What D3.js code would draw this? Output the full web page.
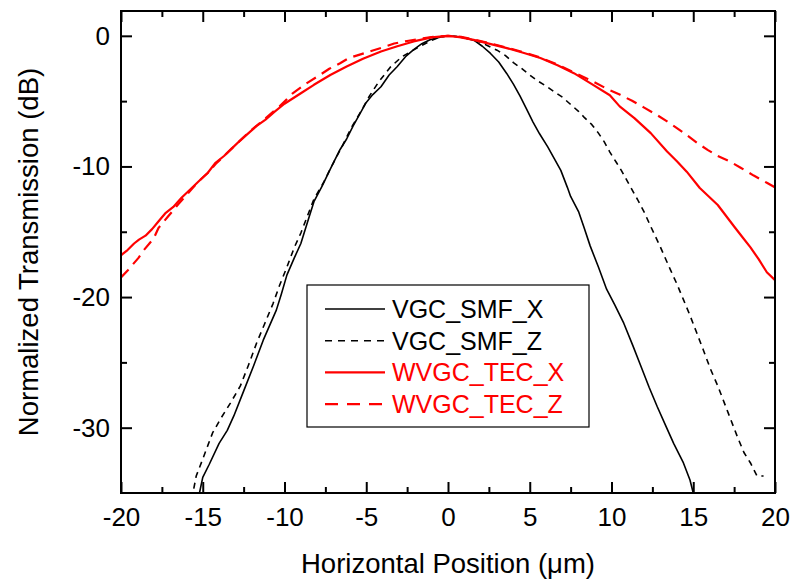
<!DOCTYPE html>
<html>
<head>
<meta charset="utf-8">
<script src="https://cdn.jsdelivr.net/npm/d3@7"></script>
<style>
  body { margin: 0; background: #fff; }
  text { font-family: "Liberation Sans", Arial, sans-serif; }
</style>
</head>
<body>
<svg id="chart" width="791" height="580"></svg>
<script>
// VGC_SMF_X (black solid)
var smfXPos = [-15.2, -15.0, -14.6, -14.0, -13.5, -13.1, -12.5, -11.9, -11.3, -10.5, -10.2, -9.85, -9.4, -9.0, -8.6, -8.2, -7.7, -7.2, -6.6, -6.2, -5.8, -5.4, -5.0, -4.6, -4.1, -3.6, -3.1, -2.6, -2.1, -1.6, -1.1, -0.5, 0, 0.5, 1.0, 1.6, 2.1, 2.6, 3.1, 3.6, 4.0, 4.4, 4.8, 5.2, 5.6, 6.1, 6.5, 6.9, 7.3, 7.5, 8.0, 8.3, 8.7, 9.2, 9.7, 10.2, 10.75, 11.3, 11.8, 12.3, 12.8, 13.3, 13.8, 14.2, 14.4, 14.8, 15.0];
var smfXVal = [-35, -33.8, -32.8, -31.2, -30.2, -29.1, -27.2, -25.3, -23.3, -21.0, -19.8, -18.3, -17.0, -15.9, -14.3, -12.7, -11.5, -10.2, -8.7, -7.9, -6.9, -6.0, -5.1, -4.5, -3.9, -3.0, -2.35, -1.6, -1.05, -0.6, -0.3, -0.1, 0, -0.05, -0.15, -0.35, -0.8, -1.35, -2.0, -2.9, -3.7, -4.6, -5.6, -6.6, -7.5, -8.5, -9.4, -10.3, -11.6, -12.3, -13.5, -14.6, -16.1, -17.7, -19.4, -20.6, -22.0, -23.7, -25.3, -26.9, -28.4, -29.8, -31.2, -32.2, -32.7, -34.0, -35];

// VGC_SMF_Z (black dashed)
var smfZPos = [-16.0, -15.6, -15.4, -15.0, -14.4, -13.9, -13.3, -12.7, -12.2, -11.7, -11.2, -10.7, -10.3, -9.85, -9.4, -9.0, -8.6, -8.2, -7.6, -7.0, -6.45, -5.9, -5.33, -4.8, -4.25, -3.53, -2.82, -2.27, -1.7, -1.1, -0.5, 0, 0.5, 1.0, 1.5, 2.0, 2.4, 3.0, 3.5, 4.0, 4.5, 5.0, 5.45, 6.0, 6.46, 7.0, 7.45, 8.0, 8.3, 8.8, 9.2, 9.55, 9.9, 10.3, 10.6, 11.0, 11.6, 12.0, 12.4, 13.0, 13.6, 14.0, 14.4, 14.8, 15.2, 15.6, 16.05, 16.5, 16.9, 17.3, 17.7, 18.1, 18.5, 18.9, 19.3];
var smfZVal = [-35, -35, -33.7, -32.4, -30.4, -29.3, -28.1, -26.8, -25.2, -23.5, -22.0, -20.5, -19.1, -17.7, -16.2, -15.1, -13.8, -12.5, -11.2, -9.7, -8.4, -7.0, -5.8, -4.6, -3.55, -2.4, -1.6, -1.2, -0.8, -0.4, -0.1, 0, -0.05, -0.15, -0.3, -0.5, -0.74, -1.1, -1.5, -2.05, -2.5, -3.0, -3.42, -3.85, -4.25, -4.7, -5.2, -5.8, -6.2, -6.8, -7.45, -8.1, -8.9, -9.7, -10.3, -11.2, -12.55, -13.5, -14.6, -16.2, -17.9, -19.0, -20.2, -21.4, -22.7, -24.0, -25.5, -26.8, -28.1, -29.4, -30.7, -31.9, -32.7, -33.7, -33.7];

// WVGC_TEC_X (red solid)
var tecXPos = [-20, -19.6, -19.2, -18.9, -18.5, -18.1, -17.7, -17.3, -16.8, -16.3, -15.8, -15.26, -14.7, -14.24, -13.7, -13.2, -12.7, -12.2, -11.7, -11.18, -10.6, -10.0, -9.0, -8.2, -7.2, -6.2, -5.2, -4.1, -3.1, -2.1, -1.0, 0, 0.7, 1.57, 2.5, 3.6, 4.6, 5.65, 6.7, 7.7, 8.8, 9.9, 10.5, 11.4, 12.4, 13.4, 14.0, 14.6, 15.4, 16.5, 17.5, 18.0, 18.5, 19.0, 19.5, 20];
var tecXVal = [-16.8, -16.4, -15.9, -15.6, -15.3, -14.8, -14.2, -13.6, -13.1, -12.4, -11.8, -11.15, -10.5, -9.74, -9.2, -8.6, -8.0, -7.45, -6.9, -6.43, -5.8, -5.2, -4.4, -3.75, -3.0, -2.35, -1.75, -1.2, -0.8, -0.43, -0.12, 0, -0.1, -0.31, -0.6, -0.94, -1.3, -1.7, -2.25, -2.86, -3.7, -4.55, -5.4, -6.3, -7.45, -8.85, -9.6, -10.4, -11.65, -12.95, -14.6, -15.4, -16.2, -17.1, -18.1, -18.7];

// WVGC_TEC_Z (red dashed)
var tecZPos = [-20, -19.55, -18.93, -18.6, -18.0, -17.7, -17.1, -16.5, -16.0, -15.3, -14.7, -14.2, -13.2, -12.2, -11.2, -10.3, -9.5, -8.63, -7.9, -7.26, -6.6, -6.08, -5.3, -4.55, -3.9, -3.29, -2.5, -1.8, -0.9, 0, 0.8, 1.6, 2.5, 3.6, 4.6, 5.6, 6.7, 7.7, 8.8, 9.83, 10.5, 11.26, 12.0, 12.7, 13.4, 14.0, 14.6, 15.24, 15.9, 16.5, 17.2, 17.9, 18.7, 19.5, 20];
var tecZVal = [-18.5, -17.9, -17.0, -16.4, -15.5, -14.7, -13.8, -12.9, -12.2, -11.2, -10.5, -9.8, -8.6, -7.4, -6.35, -5.4, -4.4, -3.62, -3.05, -2.52, -2.1, -1.71, -1.4, -1.1, -0.85, -0.59, -0.4, -0.25, -0.08, 0, -0.08, -0.3, -0.55, -0.9, -1.25, -1.65, -2.2, -2.8, -3.45, -4.13, -4.5, -4.97, -5.5, -6.0, -6.55, -7.06, -7.6, -8.2, -8.75, -9.2, -9.6, -10.1, -10.7, -11.25, -11.6];

var seriesNames = ["VGC_SMF_X", "VGC_SMF_Z", "WVGC_TEC_X", "WVGC_TEC_Z"];
var xTicks = [-20, -15, -10, -5, 0, 5, 10, 15, 20];
var xMinor = [-17.5, -12.5, -7.5, -2.5, 2.5, 7.5, 12.5, 17.5];
var yTicks = [0, -10, -20, -30];
var yMinor = [-5, -15, -25];

var svg = d3.select("#chart"),
  margin = { top: 11, right: 16, bottom: 87, left: 121 },
  width = +svg.attr("width") - margin.left - margin.right,
  height = +svg.attr("height") - margin.top - margin.bottom;

var x = d3.scaleLinear().domain([-20, 20]).range([margin.left, margin.left + width]);
var y = d3.scaleLinear().domain([-35, 1.9]).range([margin.top + height, margin.top]);

var styles = [
  { color: "#000", width: 1.6, dash: null, legendDash: null },
  { color: "#000", width: 1.6, dash: "6,5", legendDash: "7,6" },
  { color: "#ff0000", width: 2.2, dash: null, legendDash: null },
  { color: "#ff0000", width: 2.2, dash: "11,7", legendDash: "13,9" }
];

var series = [
  { pos: smfXPos, val: smfXVal },
  { pos: smfZPos, val: smfZVal },
  { pos: tecXPos, val: tecXVal },
  { pos: tecZPos, val: tecZVal }
].map(function (s, i) {
  return {
    name: seriesNames[i],
    style: styles[i],
    values: s.pos.map(function (p, j) { return { x: p, y: s.val[j] }; })
  };
});

svg.append("defs").append("clipPath").attr("id", "plot-clip")
  .append("rect")
  .attr("x", margin.left).attr("y", margin.top)
  .attr("width", width).attr("height", height);

var line = d3.line()
  .x(function (d) { return x(d.x); })
  .y(function (d) { return y(d.y); });

svg.append("g")
  .attr("clip-path", "url(#plot-clip)")
  .selectAll("path")
  .data(series)
  .enter()
  .append("path")
  .attr("fill", "none")
  .attr("stroke", function (d) { return d.style.color; })
  .attr("stroke-width", function (d) { return d.style.width; })
  .attr("stroke-dasharray", function (d) { return d.style.dash; })
  .attr("stroke-linejoin", "round")
  .attr("d", function (d) { return line(d.values); });

// axes, ticks pointing inward on all four sides
function styleAxis(g) {
  g.select(".domain").remove();
  g.selectAll(".tick line").attr("stroke", "#000").attr("stroke-width", 2);
  g.selectAll(".tick text").attr("font-size", 26).attr("fill", "#000");
}

svg.append("g")
  .attr("transform", "translate(0," + (margin.top + height) + ")")
  .call(d3.axisBottom(x).tickValues(xTicks).tickSize(-11).tickPadding(15)
    .tickFormat(function (d) { return String(d); }))
  .call(styleAxis);
svg.append("g")
  .attr("transform", "translate(0," + (margin.top + height) + ")")
  .call(d3.axisBottom(x).tickValues(xMinor).tickSize(-6).tickFormat(""))
  .call(styleAxis);
svg.append("g")
  .attr("transform", "translate(0," + margin.top + ")")
  .call(d3.axisTop(x).tickValues(xTicks).tickSize(-11).tickFormat(""))
  .call(styleAxis);
svg.append("g")
  .attr("transform", "translate(0," + margin.top + ")")
  .call(d3.axisTop(x).tickValues(xMinor).tickSize(-6).tickFormat(""))
  .call(styleAxis);

svg.append("g")
  .attr("transform", "translate(" + margin.left + ",0)")
  .call(d3.axisLeft(y).tickValues(yTicks).tickSize(-11).tickPadding(11)
    .tickFormat(function (d) { return String(d); }))
  .call(styleAxis);
svg.append("g")
  .attr("transform", "translate(" + margin.left + ",0)")
  .call(d3.axisLeft(y).tickValues(yMinor).tickSize(-6).tickFormat(""))
  .call(styleAxis);
svg.append("g")
  .attr("transform", "translate(" + (margin.left + width) + ",0)")
  .call(d3.axisRight(y).tickValues(yTicks).tickSize(-11).tickFormat(""))
  .call(styleAxis);
svg.append("g")
  .attr("transform", "translate(" + (margin.left + width) + ",0)")
  .call(d3.axisRight(y).tickValues(yMinor).tickSize(-6).tickFormat(""))
  .call(styleAxis);

svg.append("rect")
  .attr("x", margin.left).attr("y", margin.top)
  .attr("width", width).attr("height", height)
  .attr("fill", "none").attr("stroke", "#000").attr("stroke-width", 2);

// axis titles
svg.append("text")
  .attr("x", x(0))
  .attr("y", 573)
  .attr("text-anchor", "middle")
  .attr("font-size", 27.5)
  .text("Horizontal Position (\u03bcm)");

svg.append("text")
  .attr("transform", "translate(38," + (margin.top + height / 2) + ") rotate(-90)")
  .attr("text-anchor", "middle")
  .attr("font-size", 27.5)
  .text("Normalized Transmission (dB)");

// legend
var legend = svg.append("g").attr("transform", "translate(307,285)");
legend.append("rect")
  .attr("width", 282).attr("height", 142)
  .attr("fill", "#fff").attr("stroke", "#000").attr("stroke-width", 1.2);

var item = legend.selectAll(".item")
  .data(series)
  .enter()
  .append("g")
  .attr("class", "item")
  .attr("transform", function (d, i) { return "translate(0," + (24 + i * 31.7) + ")"; });

item.append("line")
  .attr("x1", 18).attr("x2", 78)
  .attr("stroke", function (d) { return d.style.color; })
  .attr("stroke-width", function (d) { return d.style.width; })
  .attr("stroke-dasharray", function (d) { return d.style.legendDash; });

item.append("text")
  .attr("x", 85)
  .attr("dy", "0.36em")
  .attr("font-size", 25)
  .attr("fill", function (d) { return d.style.color; })
  .text(function (d) { return d.name; });
</script>
</body>
</html>
